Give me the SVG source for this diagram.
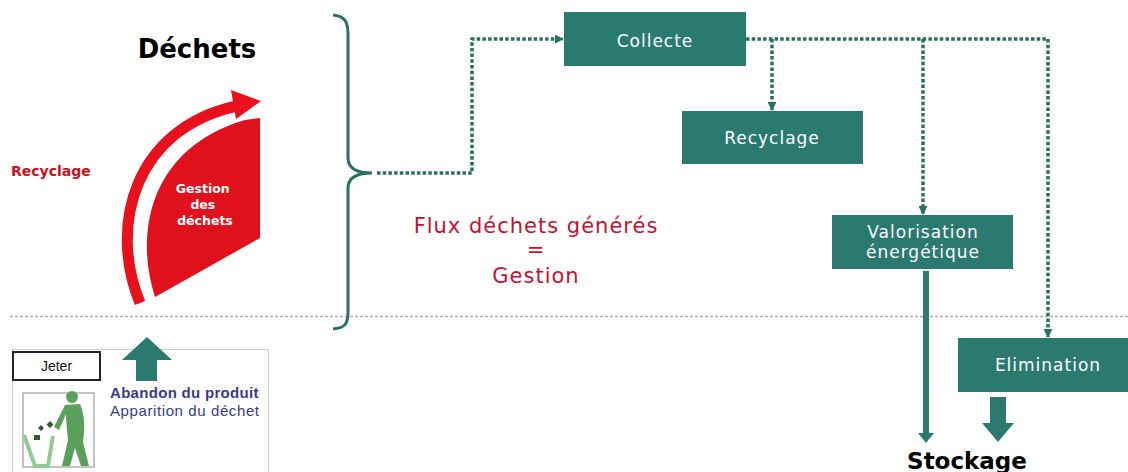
<svg xmlns="http://www.w3.org/2000/svg" width="1128" height="472" viewBox="0 0 1128 472">
<style>
.box{fill:#2a7a70;}
.bt{font-family:"DejaVu Sans",Verdana,sans-serif;font-size:17px;fill:#ffffff;text-anchor:middle;letter-spacing:1px;}
.dot{fill:none;stroke:#2a6f66;stroke-width:3.5;stroke-dasharray:3.5 2.2;}
.ct{font-family:"DejaVu Sans",Verdana,sans-serif;font-size:21px;fill:#c8102e;text-anchor:middle;letter-spacing:1px;}
</style>
<defs>
<marker id="ah" viewBox="0 0 10 10" refX="9" refY="5" markerWidth="9" markerHeight="9" markerUnits="userSpaceOnUse" orient="auto">
<path d="M0,0 L10,5 L0,10 Z" fill="#2a6f66"/>
</marker>
</defs>
<rect width="1128" height="472" fill="#ffffff"/>

<line x1="10" y1="316.5" x2="1128" y2="316.5" stroke="#aaaaaa" stroke-width="1.5" stroke-dasharray="3 2"/>

<g id="title">
<text x="197" y="58" font-family="DejaVu Sans,Verdana,sans-serif" font-weight="bold" font-size="26" text-anchor="middle" fill="#000">Déchets</text>
</g>

<g id="recyclage-label">
<text x="11" y="176" font-family="DejaVu Sans,Verdana,sans-serif" font-weight="bold" font-size="14" fill="#cc1020">Recyclage</text>
</g>

<g id="gestion-arc">
<path d="M140,303 C108,225 135,128 237,106" fill="none" stroke="#e8101c" stroke-width="11"/>
<polygon points="231,90 261,101 236,119" fill="#e8101c"/>
<path d="M260,118 L260,238 L155,297 C134,232 150,148 245,120 Z" fill="#e0101c"/>
<text font-family="DejaVu Sans,Verdana,sans-serif" font-weight="bold" font-size="12.5" fill="#ffffff" text-anchor="middle">
<tspan x="205" y="193">Gestion</tspan>
<tspan x="205" y="209">des</tspan>
<tspan x="205" y="225">déchets</tspan>
</text>
</g>

<g id="brace">
<path d="M333,15 C345,16 348,22 348,34 L348,158 C348,168 356,173 372,173 C356,173 348,178 348,188 L348,312 C348,324 345,328 333,329" fill="none" stroke="#2a6f66" stroke-width="3"/>
</g>

<g id="flux-text">
<text class="ct" x="536" y="233">Flux déchets générés</text>
<text class="ct" x="536" y="257">=</text>
<text class="ct" x="536" y="283">Gestion</text>
</g>

<g id="connectors">
<path class="dot" d="M377,173 H472 V39 H563" marker-end="url(#ah)"/>
<path class="dot" d="M746,39 H1048 V337" marker-end="url(#ah)"/>
<path class="dot" d="M772,39 V110" marker-end="url(#ah)"/>
<path class="dot" d="M923,39 V214" marker-end="url(#ah)"/>
<line x1="926" y1="271" x2="926" y2="434" stroke="#2a7a70" stroke-width="6"/>
<polygon points="918,433 934,433 926,443" fill="#2a7a70"/>
<polygon points="990,397 1006,397 1006,423 1014,423 998,442 982,423 990,423" fill="#2a7a70"/>
</g>

<g id="collecte">
<rect class="box" x="564" y="12" width="182" height="54"/>
<text class="bt" x="655" y="47">Collecte</text>
</g>
<g id="recyclage">
<rect class="box" x="682" y="111" width="181" height="53"/>
<text class="bt" x="772" y="144">Recyclage</text>
</g>
<g id="valorisation">
<rect class="box" x="832" y="215" width="181" height="54"/>
<text class="bt" x="923" y="238">Valorisation</text>
<text class="bt" x="923" y="258">énergétique</text>
</g>
<g id="elimination">
<rect class="box" x="958" y="338" width="170" height="54"/>
<text class="bt" x="1048" y="371">Elimination</text>
</g>

<g id="stockage">
<text x="967" y="469" font-family="DejaVu Sans,Verdana,sans-serif" font-weight="bold" font-size="23" text-anchor="middle" fill="#000">Stockage</text>
</g>

<g id="jeter-panel">
<rect x="12.5" y="349.5" width="256" height="130" fill="#ffffff" stroke="#cccccc" stroke-width="1"/>
<rect x="13" y="352" width="87" height="28" fill="#ffffff" stroke="#222222" stroke-width="2"/>
<text x="56.5" y="371" font-family="Liberation Sans,Arial,sans-serif" font-size="14" text-anchor="middle" fill="#111">Jeter</text>
<polygon points="136,381 157,381 157,360 172,360 147,337 122,360 136,360" fill="#2a7a70"/>
<text x="110" y="398" font-family="Liberation Sans,Arial,sans-serif" font-weight="bold" font-size="15" letter-spacing="0.3" fill="#3b3a8c">Abandon du produit</text>
<text x="110" y="416" font-family="Liberation Sans,Arial,sans-serif" font-size="15" letter-spacing="0.6" fill="#3b3a8c">Apparition du déchet</text>
<rect x="23" y="393" width="71" height="74" fill="#ffffff" stroke="#888888" stroke-width="1"/>
<path d="M24,435 L35,466 L48,466 L53,436" fill="none" stroke="#93cc93" stroke-width="4"/>
<circle cx="72" cy="397" r="6" fill="#5aa05a"/>
<path d="M65,405 L80,404 C85,415 85,430 83,442 L89,466 L81,466 L75,448 L70,466 L62,466 L68,440 C67,430 66,420 66,414 L59,430 L54,427 Z" fill="#5aa05a"/>
<path d="M41,425 l3,3 l-3,3 l-3,-3 Z M50,421 l3.5,3.5 l-3.5,3.5 l-3.5,-3.5 Z" fill="#2d5e2d"/>
<rect x="34" y="435" width="6" height="5" fill="#2d5e2d"/>
</g>
</svg>
